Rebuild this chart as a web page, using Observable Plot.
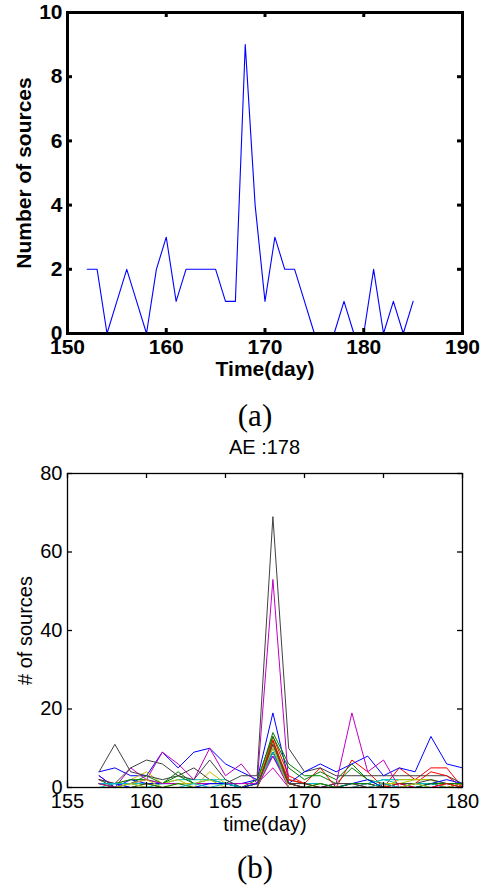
<!DOCTYPE html>
<html><head><meta charset="utf-8">
<script src="https://cdn.jsdelivr.net/npm/d3@7"></script>
<script src="https://cdn.jsdelivr.net/npm/@observablehq/plot@0.6"></script>
<style>
body{margin:0;background:#fff}
#wrap{position:relative;width:480px;height:891px;overflow:hidden;background:#fff}
#wrap > *{position:absolute}
.cap{width:120px;text-align:center;font-family:"Liberation Serif","DejaVu Serif",serif;font-size:31px;line-height:32px}
.ttl{width:200px;text-align:center;font-family:"Liberation Sans",Arial,sans-serif;font-size:20px;line-height:22px}
</style></head>
<body><div id="wrap"></div>
<script>
// ---------- Panel (a) data ----------
const daysA   = [152,153,154,155,156,157,158,159,160,161,162,163,164,165,166,167,168,169,170,171,172,173,174,175,176,177,178,179,180,181,182,183,184,185];
const countsA = [2,2,0,1,2,1,0,2,3,1,2,2,2,2,1,1,9,4,1,3,2,2,1,0,0,0,1,0,0,2,0,1,0,1];
const xTicksA = [150,160,170,180,190];
const yTicksA = [0,2,4,6,8,10];
const xLabelA = "Time(day)";
const yLabelA = "Number of sources";
const captionA = "(a)";

// ---------- Panel (b) data ----------
const titleB = "AE :178";
const daysB = [157,158,159,160,161,162,163,164,165,166,167,168,169,170,171,172,173,174,175,176,177,178,179,180];
const seriesColors = ["#0000ff","#008000","#ff0000","#00bfbf","#bf00bf","#bfbf00","#404040"];
const s01 = [4,5,3,3,9,5,9,10,6,4,2,19,2,1,1,0,1,1,0,1,0,1,0,1];
const s02 = [2,0,1,3,1,4,1,1,1,0,1,14,6,3,3,1,5,2,1,0,1,1,0,1];
const s03 = [1,0,0,0,0,0,0,0,0,0,0,13,3,1,5,0,7,4,0,5,2,5,5,0];
const s04 = [1,1,1,1,1,2,2,2,2,0,0,10,1,1,1,0,1,1,2,2,2,2,1,0];
const s05 = [3,0,5,2,9,6,2,10,3,6,1,53,1,0,0,1,1,0,1,0,1,1,1,1];
const s06 = [1,1,2,4,1,2,0,4,1,0,1,12,2,1,0,0,1,0,1,1,2,2,1,1];
const s07 = [4,11,4,3,2,3,5,2,1,3,3,69,10,4,5,3,3,3,3,3,3,3,3,1];
const s08 = [3,0,2,1,1,1,1,1,1,1,2,8,1,4,6,4,6,8,3,5,4,13,6,5];
const s09 = [1,1,2,2,1,3,1,1,1,0,2,13,5,2,4,2,6,2,0,0,1,1,1,0];
const s10 = [1,0,0,1,0,0,0,0,0,0,1,11,2,1,0,0,0,1,0,0,1,4,3,0];
const s11 = [0,1,0,0,1,1,1,2,1,0,1,9,1,0,0,0,0,1,2,1,1,1,0,0];
const s12 = [2,1,1,2,1,1,1,1,1,1,1,5,0,0,0,1,19,4,7,0,0,0,1,1];
const s13 = [1,0,1,2,0,1,1,2,0,0,1,11,1,0,1,0,0,0,0,2,2,2,0,1];
const s14 = [2,1,5,7,6,3,2,7,2,0,0,9,1,1,0,1,1,0,0,1,1,2,1,1];
const s15 = [1,1,0,0,0,0,0,1,1,0,1,9,0,0,0,0,1,2,0,0,0,1,2,1];
const s16 = [1,0,0,1,0,1,0,0,0,0,0,12,1,0,1,0,1,1,0,0,0,1,1,1];
const s17 = [0,0,0,0,0,0,0,0,0,0,0,12,1,0,0,0,0,0,0,1,0,0,1,0];
const s18 = [1,1,1,0,0,0,1,0,1,0,0,9,0,0,0,0,0,0,1,0,1,0,0,0];
const s19 = [1,0,0,0,0,0,0,0,0,0,0,8,0,0,0,0,0,0,0,0,0,0,0,0];
const s20 = [0,0,1,0,0,0,0,0,0,0,0,10,0,0,0,0,0,0,0,0,1,0,0,0];
const s21 = [0,0,0,0,0,0,0,0,0,0,0,11,1,0,0,0,0,0,0,0,0,0,0,0];
const seriesB = [s01,s02,s03,s04,s05,s06,s07,s08,s09,s10,s11,s12,s13,s14,s15,s16,s17,s18,s19,s20,s21];
const xTicksB = [155,160,165,170,175,180];
const yTicksB = [0,20,40,60,80];
const xLabelB = "time(day)";
const yLabelB = "# of sources";
const captionB = "(b)";

const wrap = document.getElementById("wrap");
const W = 480, mL = 67, mR = 18;
const plotW = W - mL - mR;
const plotCx = mL + plotW / 2;

// ---------- Panel (a) ----------
const hA = 392, mTA = 12, mBA = 59;
const pHA = hA - mTA - mBA;
const rowsA = daysA.map((d,i)=>({day:d, n:countsA[i]}));
const tickLenA = 5, swA = 3;
const chartA = Plot.plot({
  width: W, height: hA,
  marginLeft: mL, marginRight: mR, marginTop: mTA, marginBottom: mBA,
  style: {fontFamily: "'Liberation Sans', Arial, sans-serif", fontSize: "21px", fontWeight: "bold", color: "#000", background: "transparent"},
  x: {domain: [150,190]},
  y: {domain: [0,10]},
  marks: [
    Plot.line(rowsA, {x: "day", y: "n", stroke: "#0000ff", strokeWidth: 1.1}),
    Plot.ruleX(xTicksA, {x: d=>d, insetTop: pHA - tickLenA, strokeWidth: swA, stroke: "#000"}),
    Plot.ruleX(xTicksA, {x: d=>d, insetBottom: pHA - tickLenA, strokeWidth: swA, stroke: "#000"}),
    Plot.ruleY(yTicksA, {y: d=>d, insetRight: plotW - tickLenA, strokeWidth: swA, stroke: "#000"}),
    Plot.ruleY(yTicksA, {y: d=>d, insetLeft: plotW - tickLenA, strokeWidth: swA, stroke: "#000"}),
    Plot.frame({stroke: "#000", strokeWidth: swA}),
    Plot.axisX(xTicksA, {tickSize: 0, tickPadding: 6, label: null, tickFormat: d=>String(d)}),
    Plot.axisY(yTicksA, {tickSize: 0, tickPadding: 5, label: null, tickFormat: d=>String(d)}),
    Plot.text([xLabelA], {frameAnchor: "bottom", dy: 36, text: d=>d, textAnchor: "middle", lineAnchor: "middle", fill: "#000"}),
    Plot.text([yLabelA], {frameAnchor: "left", dx: -43, rotate: -90, text: d=>d, textAnchor: "middle", lineAnchor: "middle", fill: "#000"})
  ]
});
chartA.style.top = "0px";
chartA.style.left = "0px";
wrap.appendChild(chartA);

const capA = document.createElement("div");
capA.className = "cap"; capA.textContent = captionA;
capA.style.top = "400px"; capA.style.left = (255 - 60) + "px";
wrap.appendChild(capA);

const ttl = document.createElement("div");
ttl.className = "ttl"; ttl.textContent = titleB;
ttl.style.top = "436px"; ttl.style.left = (plotCx - 100) + "px";
wrap.appendChild(ttl);

// ---------- Panel (b) ----------
const topB = 460, hB = 380, mTB = 13, mBB = 53;
const pHB = hB - mTB - mBB;
const rowsB = [];
seriesB.forEach((vals, si) => vals.forEach((v, i) => rowsB.push({day: daysB[i], v, s: si, c: seriesColors[si % seriesColors.length]})));
const tickLenB = 5, swB = 1.3;
const chartB = Plot.plot({
  width: W, height: hB,
  marginLeft: mL, marginRight: mR, marginTop: mTB, marginBottom: mBB,
  style: {fontFamily: "'Liberation Sans', Arial, sans-serif", fontSize: "20px", color: "#000", background: "transparent"},
  x: {domain: [155,180]},
  y: {domain: [0,80]},
  marks: [
    Plot.line(rowsB, {x: "day", y: "v", z: "s", stroke: "c", strokeWidth: 1}),
    Plot.ruleX(xTicksB, {x: d=>d, insetTop: pHB - tickLenB, strokeWidth: swB, stroke: "#000"}),
    Plot.ruleX(xTicksB, {x: d=>d, insetBottom: pHB - tickLenB, strokeWidth: swB, stroke: "#000"}),
    Plot.ruleY(yTicksB, {y: d=>d, insetRight: plotW - tickLenB, strokeWidth: swB, stroke: "#000"}),
    Plot.ruleY(yTicksB, {y: d=>d, insetLeft: plotW - tickLenB, strokeWidth: swB, stroke: "#000"}),
    Plot.frame({stroke: "#000", strokeWidth: swB}),
    Plot.axisX(xTicksB, {tickSize: 0, tickPadding: 6, label: null, tickFormat: d=>String(d)}),
    Plot.axisY(yTicksB, {tickSize: 0, tickPadding: 5, label: null, tickFormat: d=>String(d)}),
    Plot.text([xLabelB], {frameAnchor: "bottom", dy: 37, text: d=>d, textAnchor: "middle", lineAnchor: "middle", fill: "#000"}),
    Plot.text([yLabelB], {frameAnchor: "left", dx: -42, rotate: -90, text: d=>d, textAnchor: "middle", lineAnchor: "middle", fill: "#000"})
  ]
});
chartB.style.top = topB + "px";
chartB.style.left = "0px";
wrap.appendChild(chartB);

const capB = document.createElement("div");
capB.className = "cap"; capB.textContent = captionB;
capB.style.top = "852px"; capB.style.left = (255 - 60) + "px";
wrap.appendChild(capB);
</script>
</body></html>
